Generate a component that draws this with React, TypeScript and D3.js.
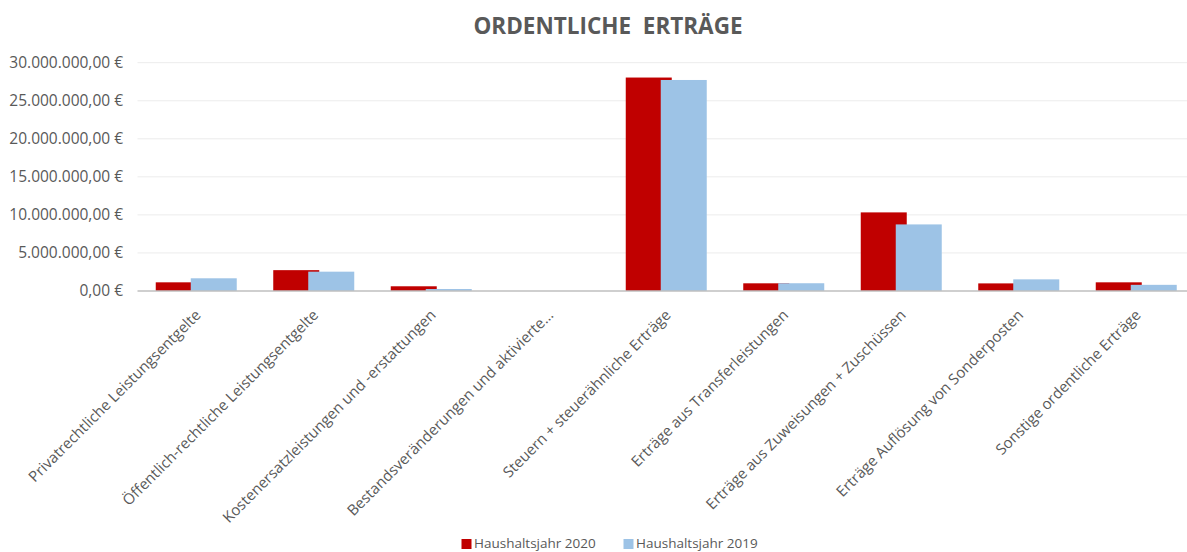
import * as d3 from "d3";
import React from "react";

const categories = [
  "Privatrechtliche Leistungsentgelte",
  "Öffentlich-rechtliche Leistungsentgelte",
  "Kostenersatzleistungen und -erstattungen",
  "Bestandsveränderungen und aktivierte…",
  "Steuern + steuerähnliche Erträge",
  "Erträge aus Transferleistungen",
  "Erträge aus Zuweisungen + Zuschüssen",
  "Erträge Auflösung von Sonderposten",
  "Sonstige ordentliche Erträge",
];
const series = ["Haushaltsjahr 2020", "Haushaltsjahr 2019"];
const values2020 = [1140000, 2740000, 620000, 0, 28050000, 1010000, 10330000, 1000000, 1140000];
const values2019 = [1670000, 2540000, 260000, 0, 27730000, 1020000, 8750000, 1530000, 810000];
const yTicks = [0, 5000000, 10000000, 15000000, 20000000, 25000000, 30000000];
const colors = ["#c00000", "#9dc3e6"];

const W = 1187;
const H = 552;
const FONT = "'Open Sans', sans-serif";
const TXT = "#595959";

const fmt = (v: number) => {
  const s = d3.format(",.2f")(v);
  return s.replace(/,/g, "X").replace(".", ",").replace(/X/g, ".") + " €";
};

export default function App() {
  const x0 = d3.scaleBand().domain(categories).range([137.5, 1195]);
  const y = d3.scaleLinear().domain([0, 30000000]).range([291, 62.7]);
  const bw = 46;
  const offs = d3.scalePoint().domain(series).range([0, 35]);
  const pairW = 35 + bw;
  const data = [values2020, values2019];

  return (
    <svg width={W} height={H} style={{ position: "absolute", left: 0, top: 0, background: "#fff" }}>
      <text x={608} y={34} textAnchor="middle" fontFamily={FONT} fontWeight="bold" fontSize={22.5}
        fill={TXT} style={{ whiteSpace: "pre" }}>
        {"ORDENTLICHE  ERTRÄGE"}
      </text>
      {yTicks.map((t) => (
        <g key={t}>
          {t > 0 && <line x1={137.5} x2={W} y1={y(t)} y2={y(t)} stroke="#ececec" strokeWidth={1} />}
          <text x={123} y={y(t)} dy="0.35em" textAnchor="end" fontFamily={FONT} fontSize={15.5} fill={TXT}>
            {fmt(t)}
          </text>
        </g>
      ))}
      {series.map((s, si) =>
        categories.map((c, ci) => {
          const gx = (x0(c) as number) + (x0.bandwidth() - pairW) / 2;
          const v = data[si][ci];
          return (
            <rect key={s + c} x={gx + (offs(s) as number)} width={bw} y={y(v)} height={y(0) - y(v)} fill={colors[si]} />
          );
        })
      )}
      <line x1={137.5} x2={W} y1={y(0)} y2={y(0)} stroke="#bfbfbf" strokeWidth={1.5} />
      {categories.map((c) => {
        const cx = (x0(c) as number) + x0.bandwidth() / 2 + 5.5;
        const cy = 316;
        return (
          <text key={c} x={cx} y={cy} transform={`rotate(-45 ${cx} ${cy})`} textAnchor="end"
            fontFamily={FONT} fontSize={15} fill={TXT}>
            {c}
          </text>
        );
      })}
      {series.map((s, i) => {
        const lx = i === 0 ? 461.5 : 623.5;
        return (
          <g key={s}>
            <rect x={lx} y={539} width={10} height={10} fill={colors[i]} />
            <text x={lx + 12.5} y={548} fontFamily={FONT} fontSize={13.5} fill={TXT}>{s}</text>
          </g>
        );
      })}
    </svg>
  );
}
